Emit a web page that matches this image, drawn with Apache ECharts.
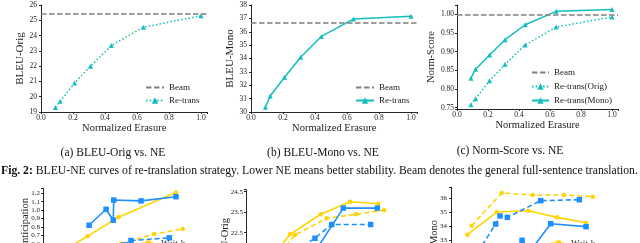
<!DOCTYPE html>
<html><head><meta charset="utf-8">
<script src="https://cdn.jsdelivr.net/npm/echarts@6/dist/echarts.min.js"></script>
<style>html,body{margin:0;padding:0;background:#fff}#c{width:640px;height:243px}</style>
</head><body><div id="c"></div>
<script>
// ---- top row: re-translation BLEU / NE curves ----
const neX = [0.09, 0.12, 0.21, 0.31, 0.44, 0.64, 1.0];
const bleuOrig = [19.3, 19.7, 20.9, 22.0, 23.35, 24.55, 25.3];
const beamOrig = 25.45;
const bleuMono = [30.35, 31.2, 32.6, 34.1, 35.65, 36.95, 37.15];
const beamMono = 36.65;
const normOrig = [0.758, 0.774, 0.822, 0.866, 0.918, 0.966, 0.993];
const normMono = [0.829, 0.853, 0.891, 0.932, 0.972, 1.008, 1.013];
const beamNorm = 1.0;

// ---- bottom row (partially visible) ----
const b1YellowSolidX = [1.56, 2.79, 4.71, 8.31];
const b1YellowSolidY = [0.55, 0.69, 0.915, 1.21];
const b1YellowDashX = [4.88, 6.94, 8.73];
const b1YellowDashY = [0.60, 0.715, 0.775];
const b1BlueSolidX = [2.88, 3.94, 4.39, 4.42, 6.13, 8.31];
const b1BlueSolidY = [0.82, 1.01, 0.88, 1.12, 1.11, 1.16];
const b1BlueDashX = [5.06, 5.5, 7.89];
const b1BlueDashY = [0.585, 0.638, 0.67];

const b2YellowSolidX = [2.0, 2.75, 4.67, 6.5, 8.27];
const b2YellowSolidY = [21.66, 22.42, 23.4, 24.01, 23.91];
const b2YellowDashX = [2.19, 3.06, 5.04, 6.88, 8.63];
const b2YellowDashY = [21.56, 22.39, 23.2, 23.4, 23.6];
const b2BlueSolidX = [4.13, 6.08, 8.21];
const b2BlueSolidY = [21.36, 23.7, 23.7];
const b2BlueDashX = [3.56, 4.31, 5.36, 7.79];
const b2BlueDashY = [21.85, 22.23, 22.9, 22.9];

const b3YellowSolidX = [1.02, 2.86, 4.83, 6.64, 8.44];
const b3YellowSolidY = [33.38, 35.01, 35.11, 34.63, 34.24];
const b3YellowDashX = [1.29, 3.17, 5.11, 7.06, 8.86];
const b3YellowDashY = [34.03, 36.38, 36.24, 36.24, 36.12];
const b3BlueSolidX = [4.44, 5.0, 6.23, 8.44];
const b3BlueSolidY = [32.98, 32.28, 34.17, 33.96];
const b3BlueDashX = [1.69, 2.79, 3.06, 3.52, 5.61, 8.02];
const b3BlueDashY = [32.14, 34.15, 34.73, 34.63, 35.83, 35.9];

const captions = ['(a) BLEU-Orig vs. NE', '(b) BLEU-Mono vs. NE', '(c) Norm-Score vs. NE'];
const figLabel = 'Fig. 2';
const figText = ': BLEU-NE curves of re-translation strategy. Lower NE means better stability. Beam denotes the general full-sentence translation.';

const FF = '"Liberation Serif", "DejaVu Serif", serif';
const axCol = '#262626';
const cyan = '#14BDBF';
const grey = '#808080';
const gold = '#FFD400';
const blue = '#1E8FFF';

const zip = (xs, ys) => xs.map((x, i) => [x, ys[i]]);
function fmt(step, dec, off) {
  off = off || 0;
  return v => { const k = (v - off) / step; return Math.abs(k - Math.round(k)) < 1e-3 ? v.toFixed(dec) : ''; };
}

function topX(gi) {
  return {
    gridIndex: gi, type: 'value', min: 0, max: 1.04, interval: 0.2,
    axisLine: { show: true, onZero: false, lineStyle: { color: axCol, width: 1 } },
    axisTick: { show: true, length: 2, lineStyle: { color: axCol } },
    splitLine: { show: false },
    axisLabel: { fontFamily: FF, fontSize: 7.5, color: '#222', margin: 2, formatter: fmt(0.2, 1) },
    name: 'Normalized Erasure', nameLocation: 'middle', nameGap: 11,
    nameTextStyle: { fontFamily: FF, fontSize: 10.5, color: '#222' }
  };
}
function topY(gi, min, max, extra, name, nameSize) {
  return Object.assign({
    gridIndex: gi, type: 'value', min: min, max: max,
    axisLine: { show: true, onZero: false, lineStyle: { color: axCol, width: 1 } },
    axisTick: { show: true, length: 2, lineStyle: { color: axCol } },
    splitLine: { show: false },
    name: name, nameLocation: 'middle', nameGap: 10, nameRotate: 90,
    nameTextStyle: { fontFamily: FF, fontSize: nameSize, color: '#222' }
  }, extra);
}
function botX(gi) {
  return { gridIndex: gi, type: 'value', min: 0, max: 10, show: false };
}
function botY(gi, min, max, extra) {
  return Object.assign({
    gridIndex: gi, type: 'value', min: min, max: max,
    axisLine: { show: true, onZero: false, lineStyle: { color: axCol, width: 1 } },
    axisTick: { show: true, length: 2, lineStyle: { color: axCol } },
    splitLine: { show: false }
  }, extra);
}

function beamSeries(gi, value) {
  return {
    type: 'line', name: 'Beam', xAxisIndex: gi, yAxisIndex: gi, data: [], symbol: 'none',
    lineStyle: { color: grey, width: 1.5, type: [5.5, 2.5] }, itemStyle: { color: grey },
    markLine: { silent: true, symbol: 'none', label: { show: false },
      lineStyle: { color: grey, width: 1.5, type: [5.5, 2.5] }, data: [{ yAxis: value }] }
  };
}
function retrans(gi, name, ys, dotted) {
  return {
    type: 'line', name: name, xAxisIndex: gi, yAxisIndex: gi, data: zip(neX, ys),
    symbol: 'triangle', symbolSize: 5, showSymbol: true,
    lineStyle: { color: cyan, width: 1.5, type: dotted ? [1.5, 2.2] : 'solid' },
    itemStyle: { color: cyan }
  };
}
function bot(gi, name, xs, ys, color, dashed, sym) {
  return {
    type: 'line', name: name, xAxisIndex: gi, yAxisIndex: gi, data: zip(xs, ys),
    symbol: sym, symbolSize: sym === 'rect' ? 5.5 : 4.5, showSymbol: true,
    lineStyle: { color: color, width: 1.6, type: dashed ? [5, 3] : 'solid' },
    itemStyle: { color: color }
  };
}

// measure caption width to fit the page width
const cv = document.createElement('canvas').getContext('2d');
cv.font = 'bold 10px "Liberation Serif"';
const w1 = cv.measureText(figLabel).width;
cv.font = '10px "Liberation Serif"';
const w2 = cv.measureText(figText).width;
const figSize = 10 * 637 / (w1 + w2);

const legText = { fontFamily: FF, fontSize: 9, color: '#222' };
const beamLeg = { name: 'Beam', itemStyle: { opacity: 0 } };
const G = (l, t, w, h) => ({ left: l, top: t, width: w, height: h, outerBoundsMode: 'none', containLabel: false });

const option = {
  backgroundColor: '#fff',
  animation: false,
  grid: [
    G(41, 5, 166.4, 107),
    G(251, 5, 166.4, 107),
    G(457, 5, 161.2, 104),
    G(43, 188.3, 160, 80.6),
    G(246, 189.65, 160, 84.05),
    G(451, 187.2, 160, 94.5)
  ],
  xAxis: [topX(0), topX(1), topX(2), botX(3), botX(4), botX(5)],
  yAxis: [
    topY(0, 19, 26, { interval: 1, axisLabel: { fontFamily: FF, fontSize: 7.5, color: '#222', margin: 4, formatter: fmt(1, 0) } }, 'BLEU-Orig', 11),
    topY(1, 30, 38, { interval: 1, axisLabel: { fontFamily: FF, fontSize: 7.5, color: '#222', margin: 4, formatter: fmt(1, 0) } }, 'BLEU-Mono', 11),
    topY(2, 0.7465, 1.0249, { minInterval: 0.05, maxInterval: 0.05, axisLabel: { fontFamily: FF, fontSize: 7.5, color: '#222', margin: 3, formatter: fmt(0.05, 2) } }, 'Norm-Score', 10.5),
    botY(3, 0.3, 1.26, { minInterval: 0.1, maxInterval: 0.1, axisLabel: { fontFamily: FF, fontSize: 7, color: '#222', margin: 3, formatter: fmt(0.1, 1) } }),
    botY(4, 20.5, 24.6, { interval: 1, axisLabel: { fontFamily: FF, fontSize: 7, color: '#222', margin: 3, formatter: fmt(1, 1, 0.5) } }),
    botY(5, 30, 36.8, { interval: 1, axisLabel: { fontFamily: FF, fontSize: 7, color: '#222', margin: 4, formatter: fmt(1, 0) } })
  ],
  legend: [
    { left: 145, top: 83, orient: 'vertical', itemWidth: 18, itemHeight: 8, itemGap: 4, padding: 0,
      data: [beamLeg, 'Re-trans'], textStyle: legText },
    { left: 355, top: 83, orient: 'vertical', itemWidth: 18, itemHeight: 8, itemGap: 4, padding: 0,
      data: [beamLeg, { name: 'Re-trans', lineStyle: { type: 'solid' } }], textStyle: legText },
    { left: 531, top: 68, orient: 'vertical', itemWidth: 17, itemHeight: 8, itemGap: 5, padding: 0,
      data: [beamLeg, 'Re-trans(Orig)', 'Re-trans(Mono)'], textStyle: legText },
    { left: 140, top: 239, orient: 'vertical', itemWidth: 15, itemHeight: 8, padding: 0,
      data: ['Wait-k'], textStyle: legText },
    { left: 550, top: 239, orient: 'vertical', itemWidth: 15, itemHeight: 8, padding: 0,
      data: ['Wait-k'], textStyle: legText }
  ],
  series: [
    beamSeries(0, beamOrig), retrans(0, 'Re-trans', bleuOrig, true),
    beamSeries(1, beamMono), retrans(1, 'Re-trans', bleuMono, false),
    beamSeries(2, beamNorm), retrans(2, 'Re-trans(Orig)', normOrig, true), retrans(2, 'Re-trans(Mono)', normMono, false),
    bot(3, 'Wait-k', b1YellowDashX, b1YellowDashY, gold, true, 'circle'),
    bot(3, 'Wait-k (full)', b1YellowSolidX, b1YellowSolidY, gold, false, 'circle'),
    bot(3, 'Adaptive', b1BlueDashX, b1BlueDashY, blue, true, 'rect'),
    bot(3, 'Adaptive (full)', b1BlueSolidX, b1BlueSolidY, blue, false, 'rect'),
    bot(4, 'Wait-k', b2YellowDashX, b2YellowDashY, gold, true, 'circle'),
    bot(4, 'Wait-k (full)', b2YellowSolidX, b2YellowSolidY, gold, false, 'circle'),
    bot(4, 'Adaptive', b2BlueDashX, b2BlueDashY, blue, true, 'rect'),
    bot(4, 'Adaptive (full)', b2BlueSolidX, b2BlueSolidY, blue, false, 'rect'),
    bot(5, 'Wait-k', b3YellowDashX, b3YellowDashY, gold, true, 'circle'),
    bot(5, 'Wait-k (full)', b3YellowSolidX, b3YellowSolidY, gold, false, 'circle'),
    bot(5, 'Adaptive', b3BlueDashX, b3BlueDashY, blue, true, 'rect'),
    bot(5, 'Adaptive (full)', b3BlueSolidX, b3BlueSolidY, blue, false, 'rect')
  ],
  graphic: [
    { type: 'text', x: 113, y: 153, style: { text: captions[0], fontFamily: FF, fontSize: 11.5, fill: '#111', align: 'center', verticalAlign: 'middle' } },
    { type: 'text', x: 323, y: 153, style: { text: captions[1], fontFamily: FF, fontSize: 11.5, fill: '#111', align: 'center', verticalAlign: 'middle' } },
    { type: 'text', x: 510, y: 151, style: { text: captions[2], fontFamily: FF, fontSize: 11.5, fill: '#111', align: 'center', verticalAlign: 'middle' } },
    { type: 'text', x: 1, y: 170.5, style: {
        text: '{b|' + figLabel + ':}{n|' + figText.slice(1) + '}',
        align: 'left', verticalAlign: 'middle',
        rich: {
          b: { fontFamily: FF, fontSize: figSize, fontWeight: 'bold', fill: '#111' },
          n: { fontFamily: FF, fontSize: figSize, fill: '#111' }
        } } },
    { type: 'text', x: 25, y: 198, rotation: Math.PI / 2, style: { text: 'Anticipation', fontFamily: FF, fontSize: 10.5, fill: '#222', align: 'right', verticalAlign: 'middle' } },
    { type: 'text', x: 225, y: 218, rotation: Math.PI / 2, style: { text: 'BLEU-Orig', fontFamily: FF, fontSize: 10.5, fill: '#222', align: 'right', verticalAlign: 'middle' } },
    { type: 'text', x: 434, y: 220, rotation: Math.PI / 2, style: { text: 'BLEU-Mono', fontFamily: FF, fontSize: 10.5, fill: '#222', align: 'right', verticalAlign: 'middle' } }
  ]
};

const chart = echarts.init(document.getElementById('c'), null, { renderer: 'canvas' });
chart.setOption(option);
</script>
</body></html>
